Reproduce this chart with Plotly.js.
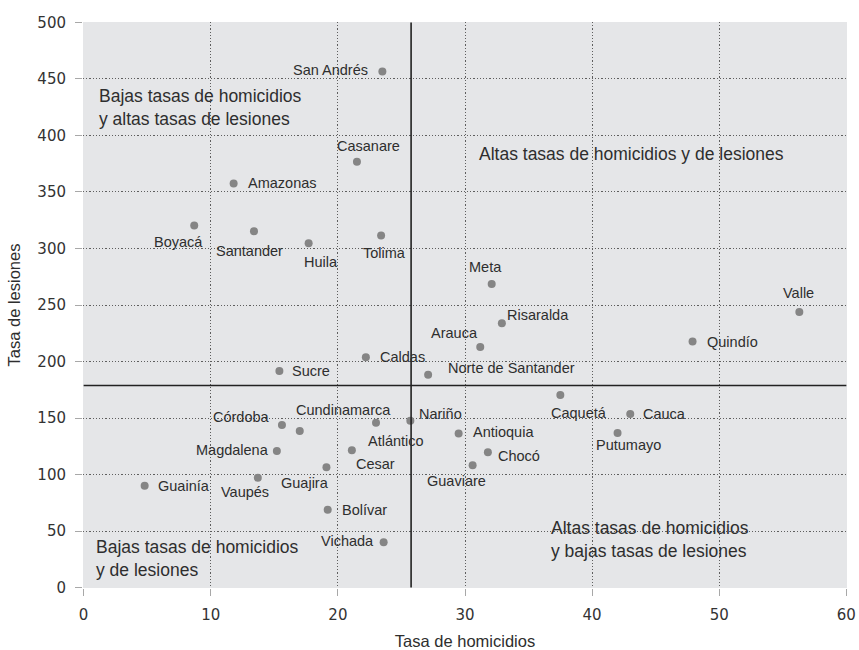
<!DOCTYPE html>
<html>
<head>
<meta charset="utf-8">
<script src="https://cdn.plot.ly/plotly-3.0.1.min.js"></script>
<style>
html,body{margin:0;padding:0;background:#fff;}
#chart{width:859px;height:650px;}
</style>
</head>
<body>
<div id="chart"></div>
<script>
// ---- Data ----
const departamentos = ["San Andrés","Casanare","Amazonas","Boyacá","Santander","Huila","Tolima","Meta","Valle","Risaralda","Arauca","Quindío","Norte de Santander","Caquetá","Cauca","Putumayo","Antioquia","Chocó","Guaviare","Caldas","Sucre","Córdoba","Cundinamarca","Atlántico","Nariño","Magdalena","Cesar","Guajira","Vaupés","Guainía","Bolívar","Vichada"];
const tasaHomicidios = [23.5,21.5,11.8,8.7,13.4,17.7,23.4,32.1,56.3,32.9,31.2,47.9,27.1,37.5,43.0,42.0,29.5,31.8,30.6,22.2,15.4,15.6,17.0,23.0,25.7,15.2,21.1,19.1,13.7,4.8,19.2,23.6];
const tasaLesiones = [456.5,376.8,357.6,320.3,315.3,304.7,311.5,268.5,243.8,233.8,212.9,217.6,188.2,170.3,153.5,136.8,136.2,119.7,108.2,203.8,191.7,143.8,138.5,145.9,147.6,120.9,121.4,106.4,97.1,90.0,68.8,40.0];
const promedioHomicidios = 25.76;
const promedioLesiones = 178.8;
const xTicks = [0,10,20,30,40,50,60];
const yTicks = [0,50,100,150,200,250,300,350,400,450,500];
const cuadrantes = [
  {text:"Bajas tasas de homicidios<br>y altas tasas de lesiones", x:1.2, y:424.7},
  {text:"Altas tasas de homicidios y de lesiones", x:31.1, y:383.2},
  {text:"Bajas tasas de homicidios<br>y de lesiones", x:1.0, y:25.7},
  {text:"Altas tasas de homicidios<br>y bajas tasas de lesiones", x:36.8, y:42.6}
];

// ---- Label placement (style only): [xanchor, xshift, yshift] ----
const labelStyle = {
  "San Andrés":["right",-14,2],"Casanare":["left",-20,16],"Amazonas":["left",14,0],
  "Boyacá":["right",9,-16],"Santander":["left",-38,-20],"Huila":["left",-5,-19],
  "Tolima":["left",-18,-18],"Meta":["left",-23,17],"Valle":["left",-16,19],
  "Risaralda":["left",5,8],"Arauca":["right",-2,14],"Quindío":["left",14,0],
  "Norte de Santander":["left",20,7],"Caquetá":["left",-9,-18],"Cauca":["left",13,0],
  "Putumayo":["left",-22,-12],"Antioquia":["left",14,2],"Chocó":["left",10,-4],
  "Guaviare":["right",13,-16],"Caldas":["left",14,0],"Sucre":["left",13,0],
  "Córdoba":["right",-12,8],"Cundinamarca":["left",-4,21],"Atlántico":["left",-8,-18],
  "Nariño":["left",9,7],"Magdalena":["right",-8,1],"Cesar":["left",4,-14],
  "Guajira":["right",3,-16],"Vaupés":["left",-37,-14],"Guainía":["left",13,0],
  "Bolívar":["left",14,0],"Vichada":["right",-10,1]
};

const FONT = "'Liberation Sans', Arial, sans-serif";
const TXT = "#2e2e2e";

const trace = {
  type: "scatter",
  mode: "markers",
  x: tasaHomicidios,
  y: tasaLesiones,
  text: departamentos,
  marker: {color: "#858585", size: 8, line: {width: 0}},
  hoverinfo: "text+x+y",
  showlegend: false
};

const annotations = departamentos.map((d, i) => {
  const s = labelStyle[d] || ["left", 10, 0];
  return {
    x: tasaHomicidios[i], y: tasaLesiones[i], xref: "x", yref: "y",
    text: d, showarrow: false, xanchor: s[0], yanchor: "middle",
    xshift: s[1], yshift: s[2], borderpad: 0, borderwidth: 0,
    font: {family: FONT, size: 14.5, color: TXT}
  };
}).concat(cuadrantes.map(q => ({
  x: q.x, y: q.y, xref: "x", yref: "y", text: q.text, showarrow: false,
  xanchor: "left", yanchor: "middle", align: "left", borderpad: 0, borderwidth: 0,
  font: {family: FONT, size: 17.5, color: TXT}
})));

const shapes = [
  {type: "line", xref: "x", yref: "y", x0: promedioHomicidios, x1: promedioHomicidios, y0: 0, y1: 500,
   line: {color: "#222", width: 1.6}, layer: "above"},
  {type: "line", xref: "x", yref: "y", x0: 0, x1: 60, y0: promedioLesiones, y1: promedioLesiones,
   line: {color: "#222", width: 1.6}, layer: "above"}
];

const layout = {
  width: 859, height: 650,
  margin: {l: 83, r: 12, t: 22, b: 62, pad: 0},
  paper_bgcolor: "#ffffff",
  plot_bgcolor: "#e5e6e8",
  font: {family: FONT, color: TXT},
  xaxis: {
    range: [-0.05, 60.05], tickvals: xTicks, ticktext: xTicks.map(String),
    showgrid: true, gridcolor: "#5e5e5e", gridwidth: 1.2, griddash: "1.2px,2px",
    zeroline: false, showline: false,
    ticks: "outside", ticklen: 7, tickcolor: "#a8a8a8", tickwidth: 1,
    ticklabelstandoff: 6,
    tickfont: {family: "'DejaVu Sans', sans-serif", size: 15, color: "#333"},
    title: {text: "Tasa de homicidios", font: {family: FONT, size: 16.5, color: TXT}, standoff: 14},
    fixedrange: true
  },
  yaxis: {
    range: [-0.4, 500.4], tickvals: yTicks, ticktext: yTicks.map(String),
    showgrid: true, gridcolor: "#5e5e5e", gridwidth: 1.2, griddash: "1.2px,2px",
    zeroline: false, showline: false,
    ticks: "outside", ticklen: 7, tickcolor: "#a8a8a8", tickwidth: 1,
    ticklabelstandoff: 6,
    tickfont: {family: "'DejaVu Sans', sans-serif", size: 15, color: "#333"},
    title: {text: "Tasa de lesiones", font: {family: FONT, size: 16.5, color: TXT}, standoff: 12},
    fixedrange: true
  },
  shapes: shapes,
  annotations: annotations,
  showlegend: false
};

Plotly.newPlot("chart", [trace], layout, {displayModeBar: false, staticPlot: false});
</script>
</body>
</html>
